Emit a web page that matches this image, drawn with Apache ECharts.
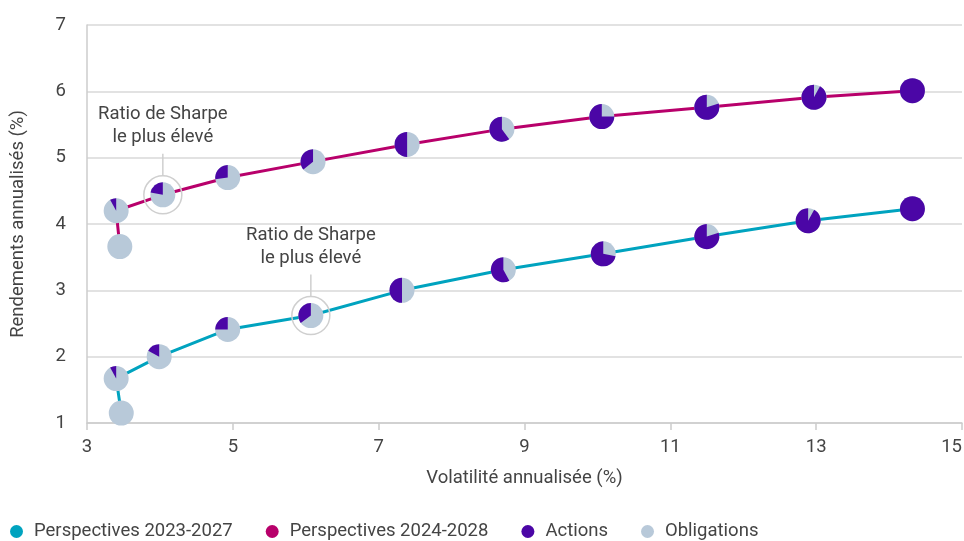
<!DOCTYPE html>
<html>
<head>
<meta charset="utf-8">
<script src="https://cdn.jsdelivr.net/npm/echarts@6/dist/echarts.min.js"></script>
<style>html,body{margin:0;padding:0;background:#fff}#c{width:964px;height:541px}</style>
</head>
<body>
<div id="c"></div>
<script>
// Data
const seriesNames = ['Perspectives 2023-2027', 'Perspectives 2024-2028', 'Actions', 'Obligations'];
const vol2023 = [3.47, 3.40, 3.99, 4.93, 6.07, 7.32, 8.71, 10.08, 11.50, 12.89, 14.32];
const ret2023 = [1.15, 1.67, 2.00, 2.41, 2.62, 3.00, 3.31, 3.55, 3.81, 4.05, 4.23];
const eq2023  = [0, 8, 17, 25, 35, 50, 58, 72, 80, 92, 100];
const vol2024 = [3.45, 3.40, 4.04, 4.93, 6.10, 7.39, 8.69, 10.06, 11.50, 12.97, 14.32];
const ret2024 = [3.66, 4.20, 4.44, 4.70, 4.94, 5.20, 5.43, 5.62, 5.76, 5.91, 6.01];
const eq2024  = [0, 8, 22, 27, 36, 50, 60, 75, 80, 92, 100];
const sharpeIdx2023 = 4;
const sharpeIdx2024 = 2;
const annotationText = 'Ratio de Sharpe\nle plus élevé';
const xTicks = {min: 3, max: 15, interval: 2};
const yTicks = {min: 1, max: 7, interval: 1};

const TEAL = '#00a3bf', MAGENTA = '#b8006b', PURPLE = '#4b06a6', GREY = '#b8c9d9';
const TXT = '#444444';
const FONT = "Roboto,'Liberation Sans',sans-serif";
const FS = 18.5;

function pieData(vol, ret, eq, sIdx) {
  return vol.map((v, i) => [v, ret[i], eq[i], i === sIdx ? 1 : 0]);
}
function lineData(vol, ret) { return vol.map((v, i) => [v, ret[i]]); }

function renderPie(params, api) {
  const c = api.coord([api.value(0), api.value(1)]);
  const w = api.value(2);
  const r = 12.5;
  const children = [{type: 'circle', shape: {cx: c[0], cy: c[1], r: r}, style: {fill: GREY}}];
  if (w > 0) {
    if (w >= 100) {
      children.push({type: 'circle', shape: {cx: c[0], cy: c[1], r: r}, style: {fill: PURPLE}});
    } else {
      children.push({type: 'sector', shape: {cx: c[0], cy: c[1], r0: 0, r: r,
        startAngle: -Math.PI / 2 - 2 * Math.PI * w / 100, endAngle: -Math.PI / 2, clockwise: true},
        style: {fill: PURPLE}});
    }
  }
  if (api.value(3) === 1) {
    const R = 19;
    children.push({type: 'circle', shape: {cx: c[0], cy: c[1], r: R}, style: {fill: 'none', stroke: '#cfcfcf', lineWidth: 1.5}});
    children.push({type: 'line', shape: {x1: c[0], y1: c[1] - R, x2: c[0], y2: c[1] - 41}, style: {stroke: '#cfcfcf', lineWidth: 1.5}});
    children.push({type: 'text', style: {text: annotationText, x: c[0], y: c[1] - 46, align: 'center', verticalAlign: 'bottom',
      fontSize: FS, fontFamily: FONT, fill: TXT, lineHeight: 23}});
  }
  return {type: 'group', children: children};
}

const chart = echarts.init(document.getElementById('c'), null, {renderer: 'canvas'});
chart.setOption({
  animation: false,
  textStyle: {fontFamily: FONT},
  grid: {left: 87, right: 2, top: 25, bottom: 118, containLabel: false, outerBoundsMode: 'none'},
  legend: {
    left: 5, top: 517, itemWidth: 13, itemHeight: 13, itemGap: 33, icon: 'circle',
    textStyle: {fontSize: FS, color: TXT, fontFamily: FONT, padding: [0, 0, 0, 6]},
    data: seriesNames.map(n => ({name: n, icon: 'circle'}))
  },
  xAxis: {
    type: 'value', min: xTicks.min, max: xTicks.max, interval: xTicks.interval,
    name: 'Volatilité annualisée (%)', nameLocation: 'middle', nameGap: 46,
    nameTextStyle: {fontSize: FS, color: TXT, fontFamily: FONT},
    axisLine: {show: true, lineStyle: {color: '#cccccc', width: 1.5}},
    axisTick: {show: true, length: 7, lineStyle: {color: '#cccccc', width: 1.5}},
    axisLabel: {fontSize: FS, color: TXT, margin: 15, fontFamily: FONT, alignMaxLabel: 'right'},
    splitLine: {show: false}
  },
  yAxis: {
    type: 'value', min: yTicks.min, max: yTicks.max, interval: yTicks.interval,
    name: 'Rendements annualisés (%)', nameLocation: 'middle', nameGap: 59,
    nameTextStyle: {fontSize: FS, color: TXT, fontFamily: FONT},
    axisLine: {show: true, lineStyle: {color: '#cccccc', width: 1.5}},
    axisTick: {show: false},
    axisLabel: {fontSize: FS, color: TXT, margin: 21, fontFamily: FONT},
    splitLine: {show: true, lineStyle: {color: '#d9d9d9', width: 1.5}}
  },
  series: [
    {name: seriesNames[0], type: 'line', data: lineData(vol2023, ret2023), showSymbol: false, symbol: 'circle',
      itemStyle: {color: TEAL}, lineStyle: {color: TEAL, width: 3}, z: 2},
    {name: seriesNames[1], type: 'line', data: lineData(vol2024, ret2024), showSymbol: false, symbol: 'circle',
      itemStyle: {color: MAGENTA}, lineStyle: {color: MAGENTA, width: 3}, z: 2},
    {name: seriesNames[2], type: 'scatter', data: [], itemStyle: {color: PURPLE, opacity: 1}},
    {name: seriesNames[3], type: 'scatter', data: [], itemStyle: {color: GREY, opacity: 1}},
    {name: 'pies2023', type: 'custom', renderItem: renderPie, data: pieData(vol2023, ret2023, eq2023, sharpeIdx2023),
      encode: {x: 0, y: 1}, clip: false, z: 5},
    {name: 'pies2024', type: 'custom', renderItem: renderPie, data: pieData(vol2024, ret2024, eq2024, sharpeIdx2024),
      encode: {x: 0, y: 1}, clip: false, z: 5}
  ]
});
</script>
</body>
</html>
